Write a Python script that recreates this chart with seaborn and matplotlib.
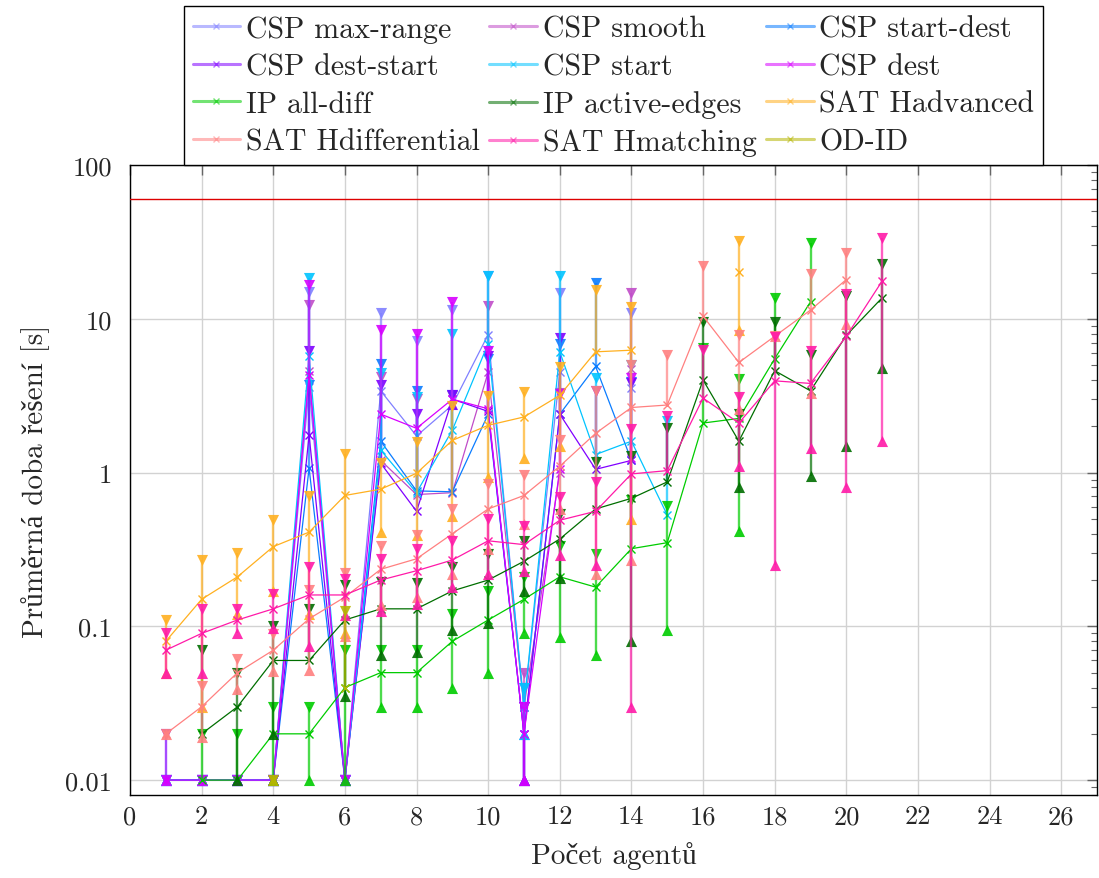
import numpy as np
import pandas as pd
import matplotlib
matplotlib.use("Agg")
import matplotlib.pyplot as plt
from matplotlib.lines import Line2D
from matplotlib.ticker import LogLocator, NullFormatter
import seaborn as sns

nan = np.nan
agents = list(range(1, 22))

# mean solve time and its standard deviation per number of agents
csp_max_range_mean = [0.01, 0.01, 0.01, 0.01, 3.6, 0.01, 3.4, 1.73, 2.75, 7.9, 0.03, 4.5, nan, 3.55, nan, nan, nan, nan, nan, nan, nan]
csp_max_range_std = [0, 0, 0, 0, 11.3, 0, 7.5, 5.4, 8.65, 11.0, 0.01, 10.2, nan, 7.35, nan, nan, nan, nan, nan, nan, nan]

csp_smooth_mean = [0.01, 0.01, 0.01, 0.01, 4.6, 0.01, 1.2, 0.72, 0.74, 4.5, 0.03, 1.0, nan, 4.7, nan, nan, nan, nan, nan, nan, nan]
csp_smooth_std = [0, 0, 0, 0, 7.7, 0, 3.0, 2.3, 2.4, 7.7, 0.02, 2.3, nan, 10.0, nan, nan, nan, nan, nan, nan, nan]

csp_start_dest_mean = [0.01, 0.01, 0.01, 0.01, 1.07, 0.01, 1.6, 0.76, 0.75, 2.4, 0.02, 2.4, 4.9, 1.2, nan, nan, nan, nan, nan, nan, nan]
csp_start_dest_std = [0, 0, 0, 0, 2.65, 0, 3.5, 2.65, 2.45, 3.1, 0.01, 4.5, 12.3, 2.7, nan, nan, nan, nan, nan, nan, nan]

csp_dest_start_mean = [0.01, 0.01, 0.01, 0.01, 1.75, 0.01, 1.15, 0.56, 3.0, 2.5, 0.02, 2.4, 1.05, 1.2, nan, nan, nan, nan, nan, nan, nan]
csp_dest_start_std = [0.01, 0, 0, 0, 4.45, 0, 2.55, 1.85, 0.2, 3.2, 0.01, 5.1, 2.35, 2.6, nan, nan, nan, nan, nan, nan, nan]

csp_start_mean = [0.01, 0.01, 0.01, 0.01, 5.7, 0.01, 1.4, 0.74, 1.89, 6.9, 0.03, 6.1, 1.31, 1.6, 0.53, nan, nan, nan, nan, nan, nan]
csp_start_std = [0, 0, 0, 0, 12.6, 0, 3.05, 2.35, 6.1, 12.1, 0.01, 12.9, 2.8, 3.4, 1.62, nan, nan, nan, nan, nan, nan]

csp_dest_mean = [0.01, 0.01, 0.01, 0.01, 4.3, 0.01, 2.4, 1.94, 3.0, 2.6, 0.02, 1.06, nan, 1.25, nan, nan, nan, nan, nan, nan, nan]
csp_dest_std = [0, 0, 0, 0, 12.3, 0, 6.0, 6.05, 9.8, 3.6, 0.01, 2.2, nan, 2.85, nan, nan, nan, nan, nan, nan, nan]

ip_all_diff_mean = [nan, 0.01, 0.01, 0.02, 0.02, 0.04, 0.05, 0.05, 0.08, 0.11, 0.15, 0.21, 0.18, 0.32, 0.35, 2.1, 2.25, 5.5, 12.9, nan, nan]
ip_all_diff_std = [nan, 0.01, 0.01, 0.01, 0.01, 0.03, 0.02, 0.02, 0.04, 0.06, 0.06, 0.125, 0.115, 0.34, 0.255, 4.4, 1.83, 8.1, 18.0, nan, nan]

ip_active_edges_mean = [nan, 0.02, 0.03, 0.06, 0.06, 0.11, 0.13, 0.13, 0.17, 0.20, 0.265, 0.37, 0.58, 0.68, 0.87, 4.0, 1.6, 4.6, 3.4, 7.8, 13.7]
ip_active_edges_std = [nan, 0.05, 0.02, 0.04, 0.07, 0.075, 0.065, 0.062, 0.075, 0.095, 0.095, 0.165, 0.6, 0.6, 1.07, 5.6, 0.8, 4.9, 2.45, 6.3, 8.9]

sat_hadvanced_mean = [0.08, 0.15, 0.21, 0.33, 0.41, 0.71, 0.78, 0.99, 1.62, 2.03, 2.3, 3.18, 6.1, 6.25, nan, nan, 20.3, nan, nan, nan, nan]
sat_hadvanced_std = [0.03, 0.12, 0.09, 0.16, 0.29, 0.62, 0.37, 0.6, 1.1, 1.1, 1.05, 1.7, 9.4, 5.75, nan, nan, 11.9, nan, nan, nan, nan]

sat_hdifferential_mean = [0.02, 0.03, 0.05, 0.07, 0.112, 0.155, 0.235, 0.275, 0.40, 0.58, 0.71, 1.1, 1.8, 2.65, 2.75, 10.4, 5.2, 7.7, 11.4, 18.0, nan]
sat_hdifferential_std = [0, 0.011, 0.011, 0.019, 0.06, 0.068, 0.097, 0.12, 0.18, 0.26, 0.25, 0.52, 1.58, 2.38, 3.05, 11.5, 2.6, 0.0, 8.1, 8.8, nan]

sat_hmatching_mean = [0.07, 0.09, 0.11, 0.13, 0.16, 0.16, 0.20, 0.23, 0.27, 0.36, 0.34, 0.49, 0.56, 0.98, 1.03, 3.05, 2.1, 3.95, 3.8, 7.7, 17.6]
sat_hmatching_std = [0.02, 0.04, 0.02, 0.033, 0.085, 0.042, 0.075, 0.09, 0.09, 0.14, 0.11, 0.2, 0.31, 0.95, 1.32, 3.25, 1.0, 3.7, 2.35, 6.9, 16.0]

od_id_mean = [nan, nan, nan, 0.01, nan, 0.04, nan, nan, nan, nan, nan, nan, nan, nan, nan, nan, nan, nan, nan, nan, nan]
od_id_std = [nan, nan, nan, 0, nan, 0.085, nan, nan, nan, nan, nan, nan, nan, nan, nan, nan, nan, nan, nan, nan, nan]

series_names = ["CSP max-range", "CSP smooth", "CSP start-dest", "CSP dest-start",
                "CSP start", "CSP dest", "IP all-diff", "IP active-edges",
                "SAT Hadvanced", "SAT Hdifferential", "SAT Hmatching", "OD-ID"]
series_colors = ["#8080ff", "#c04cc8", "#0a7cff", "#8000ff",
                 "#00c4ff", "#d800ff", "#00cc00", "#006e00",
                 "#ffb020", "#ff8080", "#ff1aa8", "#b5b500"]
series_means = [csp_max_range_mean, csp_smooth_mean, csp_start_dest_mean, csp_dest_start_mean,
                csp_start_mean, csp_dest_mean, ip_all_diff_mean, ip_active_edges_mean,
                sat_hadvanced_mean, sat_hdifferential_mean, sat_hmatching_mean, od_id_mean]
series_stds = [csp_max_range_std, csp_smooth_std, csp_start_dest_std, csp_dest_start_std,
               csp_start_std, csp_dest_std, ip_all_diff_std, ip_active_edges_std,
               sat_hadvanced_std, sat_hdifferential_std, sat_hmatching_std, od_id_std]

time_limit = 60

sns.set_theme(style="white")
plt.rcParams["font.family"] = ["cmr10", "Liberation Serif", "DejaVu Serif"]
plt.rcParams["mathtext.fontset"] = "cm"
plt.rcParams["axes.formatter.use_mathtext"] = True

fig = plt.figure(figsize=(10.99, 8.79), dpi=100)
ax = fig.add_axes([0.1183, 0.0944, 0.8799, 0.7167])

x = np.array(agents, dtype=float)
for k, (name, color, mean, std) in enumerate(zip(series_names, series_colors, series_means, series_stds)):
    m = np.array(mean, dtype=float)
    s = np.array(std, dtype=float)
    ok = ~np.isnan(m)
    hi = m + s
    lo = m - s
    has_lo = ok & (lo > 1e-9)
    bottom = np.where(has_lo, lo, m)
    z = 3 + k * 0.1

    # error bars: mean +- std, lower part dropped when it falls below zero
    ax.vlines(x[ok], bottom[ok], hi[ok], colors=color, linewidth=1.7, alpha=0.7, zorder=z)
    ax.scatter(x[ok], hi[ok], marker="v", s=64, color=color, alpha=0.9, linewidths=0, zorder=z + 0.01)
    ax.scatter(x[has_lo], lo[has_lo], marker="^", s=64, color=color, alpha=0.9, linewidths=0, zorder=z + 0.01)

    # mean line, broken where values are missing
    seg = np.cumsum(~ok)
    df = pd.DataFrame({"agents": x, "time": m, "seg": seg})[ok]
    sns.lineplot(data=df, x="agents", y="time", units="seg", estimator=None, sort=True,
                 color=color, linewidth=0.9, marker="x", markersize=6,
                 markeredgecolor=color, markeredgewidth=1.0, ax=ax, zorder=z + 0.02,
                 legend=False)

ax.axhline(time_limit, color="#dd0000", linewidth=1.0, zorder=10)

ax.set_yscale("log")
ax.set_xlim(0, 27)
ax.set_ylim(0.008, 100)
ax.set_xticks(range(0, 27, 2))
ax.set_xticklabels([str(v) for v in range(0, 27, 2)])
ax.set_yticks([0.01, 0.1, 1, 10, 100])
ax.set_yticklabels(["0.01", "0.1", "1", "10", "100"])
ax.yaxis.set_minor_locator(LogLocator(base=10, subs=np.arange(2, 10)))
ax.yaxis.set_minor_formatter(NullFormatter())
ax.tick_params(which="both", direction="in", top=True, right=True, labelsize=19)
ax.tick_params(axis="y", which="major", pad=13)
ax.tick_params(axis="x", which="major", pad=7)
ax.tick_params(which="major", length=7, width=1.0, color="#666666")
ax.tick_params(which="minor", length=4.5, width=0.8, color="#666666")
ax.grid(True, which="major", color="#d2d2d2", linewidth=1.0, zorder=0)
ax.set_axisbelow(True)
for sp in ax.spines.values():
    sp.set_color("black")
    sp.set_linewidth(1.0)

ax.set_xlabel("Počet agentů", fontsize=21, labelpad=9)
ax.set_ylabel("Průměrná doba řešení [s]", fontsize=21, labelpad=11)

handles = [Line2D([], [], color=c, linewidth=2.2, alpha=0.55, marker="x", markersize=5,
                  markeredgewidth=1.0) for c in series_colors]
order = [0, 3, 6, 9, 1, 4, 7, 10, 2, 5, 8, 11]
leg = ax.legend([handles[i] for i in order], [series_names[i] for i in order],
                ncol=3, loc="lower center", bbox_to_anchor=(0.5, 1.0),
                frameon=True, fancybox=False, edgecolor="black", framealpha=1,
                fontsize=21.5, handlelength=1.6, handletextpad=0.2, columnspacing=0.3,
                labelspacing=0.34, borderpad=0.3, borderaxespad=0.0)
leg.get_frame().set_linewidth(1.0)

fig.savefig("out.png", dpi=100)
